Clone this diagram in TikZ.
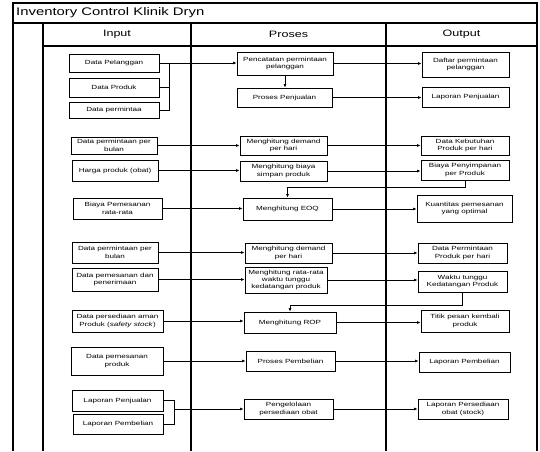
\documentclass[tikz,border=0pt]{standalone}
\usepackage{fontspec}
\setmainfont[FakeStretch=1.35]{Liberation Sans}
\usetikzlibrary{arrows.meta}

\tikzset{
  lane/.style={line width=1.2pt},
  box/.style={draw, line width=0.8pt, align=center, inner sep=1pt,
              font=\fontsize{6}{7.4}\selectfont},
  flow/.style={line width=0.7pt},
  arr/.style={flow, -{Latex[length=3.5pt,width=3pt]}},
  head/.style={font=\fontsize{9.3}{11}\selectfont, inner sep=0pt},
}

\begin{document}
\begin{tikzpicture}[x=1pt,y=-1pt]
\useasboundingbox (0,0) rectangle (540,451);

% swimlane frame
\draw[lane] (13,451) -- (13,3) -- (537,3) -- (537,451);
\draw[lane] (13,23) -- (537,23);
\draw[lane] (43,23) -- (43,451);
\draw[lane] (191,23) -- (191,451);
\draw[lane] (386,23) -- (386,451);
\draw[lane] (43,46) -- (537,46);

\node[anchor=west, inner sep=0pt, font=\fontsize{11}{13}\selectfont] (title) at (16,13) {Inventory Control Klinik Dryn};
\node[head] (hin)  at (117,34.5) {Input};
\node[head] (hpr)  at (288.5,34.5) {Proses};
\node[head] (hout) at (461.5,34.5) {Output};

% input column
\node[box, minimum width=90, minimum height=18] (i1) at (114,63) {Data Pelanggan};
\node[box, minimum width=90, minimum height=19] (i2) at (114,87.5) {Data Produk};
\node[box, minimum width=90, minimum height=16] (i3) at (114,110) {Data permintaa};
\node[box, minimum width=86, minimum height=17] (i4) at (114,145.5) {Data permintaan per\\bulan};
\node[box, minimum width=86, minimum height=21] (i5) at (115,170.5) {Harga produk (obat)};
\node[box, minimum width=89, minimum height=21] (i6) at (117.5,208.5) {Biaya Pemesanan\\rata-rata};
\node[box, minimum width=86, minimum height=21] (i7) at (115,252.5) {Data permintaan per\\bulan};
\node[box, minimum width=86, minimum height=23] (i8) at (115,279.5) {Data pemesanan dan\\penerimaan};
\node[box, minimum width=91, minimum height=22] (i9) at (117.5,321) {Data persediaan aman\\Produk (\textit{safety stock})};
\node[box, minimum width=92, minimum height=28] (i10) at (117,361) {Data pemesanan\\produk};
\node[box, minimum width=91, minimum height=21] (i11) at (117.5,400.5) {Laporan Penjualan};
\node[box, minimum width=90, minimum height=20] (i12) at (118,424) {Laporan Pembelian};

% process column
\node[box, minimum width=96, minimum height=23] (p1) at (285,63.5) {Pencatatan permintaan\\pelanggan};
\node[box, minimum width=95, minimum height=19] (p2) at (284.5,97.5) {Proses Penjualan};
\node[box, minimum width=87, minimum height=19] (p3) at (283.5,145.5) {Menghitung demand\\per hari};
\node[box, minimum width=87, minimum height=20] (p4) at (283.5,171) {Menghitung biaya\\simpan produk};
\node[box, minimum width=89, minimum height=22] (p5) at (287.5,209) {Menghitung EOQ};
\node[box, minimum width=87, minimum height=20] (p6) at (288.5,253) {Menghitung demand\\per hari};
\node[box, minimum width=82, minimum height=26] (p7) at (286,280) {Menghitung rata-rata\\waktu tunggu\\kedatangan produk};
\node[box, minimum width=92, minimum height=21] (p8) at (290,322.5) {Menghitung ROP};
\node[box, minimum width=89, minimum height=20] (p9) at (290.5,361) {Proses Pembelian};
\node[box, minimum width=89, minimum height=20] (p10) at (288.5,409) {Pengelolaan\\persediaan obat};

% output column
\node[box, minimum width=87, minimum height=25] (o1) at (465.5,64.5) {Daftar permintaan\\pelanggan};
\node[box, minimum width=87, minimum height=20] (o2) at (465.5,97) {Laporan Penjualan};
\node[box, minimum width=88, minimum height=19] (o3) at (465,145.5) {Data Kebutuhan\\Produk per hari};
\node[box, minimum width=88, minimum height=20] (o4) at (465,170) {Biaya Penyimpanan\\per Produk};
\node[box, minimum width=95, minimum height=27] (o5) at (464.5,208.5) {Kuantitas pemesanan\\yang optimal};
\node[box, minimum width=89, minimum height=20] (o6) at (462.5,253) {Data Permintaan\\Produk per hari};
\node[box, minimum width=89, minimum height=21] (o7) at (462.5,281.5) {Waktu tunggu\\Kedatangan Produk};
\node[box, minimum width=88, minimum height=22] (o8) at (465,321) {Titik pesan kembali\\produk};
\node[box, minimum width=91, minimum height=20] (o9) at (464.5,362) {Laporan Pembelian};
\node[box, minimum width=90, minimum height=20] (o10) at (463,409) {Laporan Persediaan\\obat (stock)};

% joins on the input side
\coordinate (busA) at (169,63);
\coordinate (busB) at (174,409);
\draw[flow] (i2.east) -| (busA);
\draw[flow] (i3.east) -| (busA);
\draw[arr] (i1.east) -- (i1.east -| p1.west);
\draw[flow] (i11.east) -- (i11.east -| busB) -- (i12.east -| busB) -- (i12.east);
\draw[arr] (busB) -- (busB -| p10.west);

% input to process
\draw[arr] (i4.east) -- (i4.east -| p3.west);
\draw[arr] (i5.east) -- (i5.east -| p4.west);
\draw[arr] (i6.east) -- (i6.east -| p5.west);
\draw[arr] (i7.east) -- (i7.east -| p6.west);
\draw[arr] (i8.east) -- (i8.east -| p7.west);
\draw[arr] (i9.east) -- (i9.east -| p8.west);
\draw[arr] (i10.east) -- (i10.east -| p9.west);

% process to process
\draw[arr] (p1.south) -- (p1.south |- p2.north);

% process to output
\draw[arr] (p1.east) -- (p1.east -| o1.west);
\draw[arr] (p2.east) -- (p2.east -| o2.west);
\draw[arr] (p3.east) -- (p3.east -| o3.west);
\draw[arr] (p4.east) -- (p4.east -| o4.west);
\draw[arr] (p5.east) -- (p5.east -| o5.west);
\draw[arr] (p6.east) -- (p6.east -| o6.west);
\draw[arr] (p7.east) -- (p7.east -| o7.west);
\draw[arr] (p8.east) -- (p8.east -| o8.west);
\draw[arr] (p9.east) -- (p9.east -| o9.west);
\draw[arr] (p10.east) -- (p10.east -| o10.west);

% output fed back into process
\draw[arr] (o4.south) -- ++(0,7) -| (p5.north);
\draw[arr] (o7.south) -- ++(0,13) -| (p8.north);
\end{tikzpicture}
\end{document}
